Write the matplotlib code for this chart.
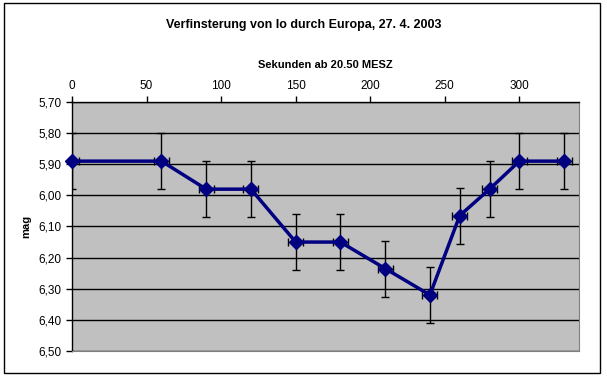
import numpy as np
import matplotlib.pyplot as plt
from matplotlib.patches import Rectangle

plt.rcParams['font.family'] = ['Liberation Sans', 'DejaVu Sans']

# data
seconds = [0, 60, 90, 120, 150, 180, 210, 240, 260, 280, 300, 330]
mag = [5.89, 5.89, 5.98, 5.98, 6.15, 6.15, 6.235, 6.32, 6.065, 5.98, 5.89, 5.89]
mag_err = 0.09
sec_err = 5
mag_ticks = [5.7, 5.8, 5.9, 6.0, 6.1, 6.2, 6.3, 6.4, 6.5]
sec_ticks = [0, 50, 100, 150, 200, 250, 300]

fig = plt.figure(figsize=(6.07, 3.78), dpi=100)
ax = fig.add_axes([72/607, 1 - 351/378, (579-72)/607, (351-102)/378])

ax.set_facecolor('#C0C0C0')
ax.errorbar(seconds, mag, yerr=mag_err, xerr=sec_err, fmt='none',
            ecolor='black', elinewidth=1, capsize=3, capthick=1, zorder=3)
ax.plot(seconds, mag, color='#000080', linewidth=2.5, marker='D',
        markersize=7, markerfacecolor='#000080', zorder=4, clip_on=False)

ax.set_xlim(0, 340)
ax.set_ylim(6.50, 5.70)
ax.set_yticks(mag_ticks)
ax.set_yticklabels([('%.2f' % v).replace('.', ',') for v in mag_ticks])
ax.set_xticks(sec_ticks)
ax.xaxis.tick_top()
ax.xaxis.set_label_position('top')
ax.tick_params(axis='both', labelsize=8.5, direction='out', length=4, width=1, colors='black')
ax.yaxis.grid(True, color='black', linewidth=1)
ax.set_axisbelow(True)

ax.spines['right'].set_color('#808080')
ax.spines['bottom'].set_color('#808080')
ax.spines['top'].set_linewidth(1)
ax.spines['left'].set_linewidth(1)

ax.set_xlabel('Sekunden ab 20.50 MESZ', fontsize=8, fontweight='bold', labelpad=8)
ax.set_ylabel('mag', fontsize=8, fontweight='bold', labelpad=5)
fig.text(0.5, 1 - 25/378, 'Verfinsterung von Io durch Europa, 27. 4. 2003',
         ha='center', va='center', fontsize=9, fontweight='bold')

fig.patches.append(Rectangle((4/607, 5/378), 596/607, 370/378, transform=fig.transFigure,
                             fill=False, edgecolor='black', linewidth=1))

fig.savefig('out.png', dpi=100)
